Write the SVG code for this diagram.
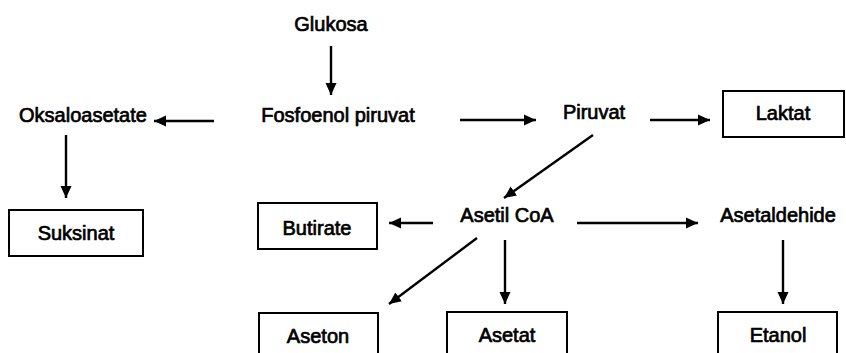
<svg xmlns="http://www.w3.org/2000/svg" width="846" height="353" viewBox="0 0 846 353">
<style>
text{font-family:"Liberation Sans",Arial,sans-serif;font-size:20px;fill:#000;stroke:#000;stroke-width:0.7;text-anchor:middle}
.box{fill:#fff;stroke:#000;stroke-width:2}
.c line{stroke:#000;stroke-width:2.4;marker-end:url(#ah)}
</style>
<defs>
<marker id="ah" markerUnits="userSpaceOnUse" markerWidth="14" markerHeight="12" refX="12" refY="6" orient="auto">
<path d="M0,0.5 L12,6 L0,11.5 Z" fill="#000"/>
</marker>
</defs>
<rect width="846" height="353" fill="#fff"/>
<g class="c" id="connectors">
<line x1="331" y1="46" x2="331" y2="95"/>
<line x1="214" y1="121" x2="154" y2="121"/>
<line x1="66" y1="135" x2="66" y2="198"/>
<line x1="460" y1="120" x2="536" y2="120"/>
<line x1="650" y1="120" x2="710" y2="120"/>
<line x1="593" y1="135" x2="504" y2="198"/>
<line x1="433" y1="223" x2="389" y2="223"/>
<line x1="577" y1="223" x2="698" y2="223"/>
<line x1="783" y1="240" x2="783" y2="304"/>
<line x1="505" y1="240" x2="505" y2="304"/>
<line x1="477" y1="238" x2="389" y2="304"/>
</g>
<g id="glukosa"><text x="331" y="31">Glukosa</text></g>
<g id="fosfoenol"><text x="338" y="122">Fosfoenol piruvat</text></g>
<g id="oksaloasetate"><text x="83" y="122">Oksaloasetate</text></g>
<g id="piruvat"><text x="594" y="119">Piruvat</text></g>
<g id="laktat"><rect class="box" x="723" y="91" width="121" height="46"/><text x="783" y="120">Laktat</text></g>
<g id="suksinat"><rect class="box" x="9" y="210" width="134" height="46"/><text x="76" y="240">Suksinat</text></g>
<g id="butirate"><rect class="box" x="258" y="203" width="119" height="46"/><text x="317" y="235">Butirate</text></g>
<g id="asetilcoa"><text x="507" y="222">Asetil CoA</text></g>
<g id="asetaldehide"><text x="778" y="222">Asetaldehide</text></g>
<g id="aseton"><rect class="box" x="259" y="313" width="119" height="50"/><text x="318" y="343">Aseton</text></g>
<g id="asetat"><rect class="box" x="447" y="312" width="120" height="50"/><text x="507" y="342">Asetat</text></g>
<g id="etanol"><rect class="box" x="718" y="312" width="119" height="50"/><text x="778" y="342">Etanol</text></g>
</svg>
